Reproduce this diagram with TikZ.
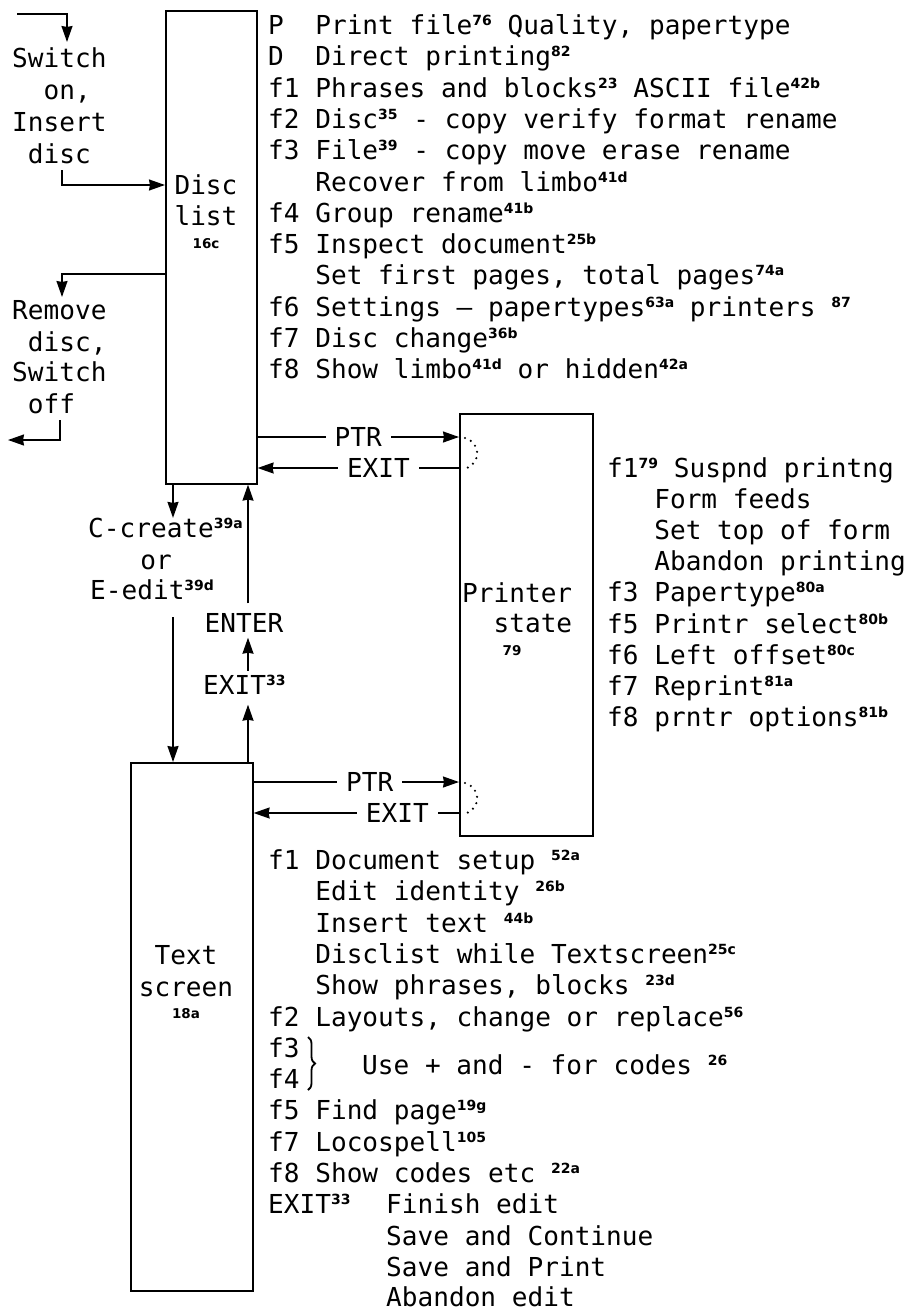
\documentclass[tikz,border=0pt]{standalone}
\usepackage{fontspec}
\setmainfont{DejaVu Sans Mono}
\newfontfamily\supf{DejaVu Sans}
\usetikzlibrary{arrows.meta,decorations.pathreplacing}
\newcommand\supx[1]{\raisebox{9pt}{\supf\bfseries\fontsize{14}{14}\selectfont #1}}
\newcommand\smallref[1]{{\supf\bfseries\fontsize{13.5}{13.5}\selectfont #1}}
\begin{document}
\begin{tikzpicture}[x=1pt,y=-1pt,
  tx/.style={anchor=base west, inner sep=0pt, font=\fontsize{26.1}{31}\selectfont},
  tc/.style={anchor=base, inner sep=0pt, font=\fontsize{26.1}{31}\selectfont},
  ln/.style={line width=1.6pt},
  arr/.style={line width=1.6pt, -{Stealth[length=16pt,width=11pt,inset=1pt]}},
  box/.style={draw, line width=1.6pt, anchor=north west, inner sep=0pt},
  lab/.style={fill=white, inner xsep=9pt, inner ysep=1pt, font=\fontsize{26.1}{31}\selectfont},
  dots/.style={line width=2.4pt, line cap=round, dash pattern=on 0pt off 6.5pt}]
\useasboundingbox (0,0) rectangle (916,1312);
\fill[white] (0,0) rectangle (916,1312);

% boxes
\node[box, minimum width=91pt, minimum height=473pt] (disc) at (165,10) {};
\node[box, minimum width=133pt, minimum height=422pt] (prn) at (459,413) {};
\node[box, minimum width=122pt, minimum height=528pt] (txt) at (130,762) {};

% box labels
\node[tc] (discA) at (206,194.5) {Disc};
\node[tc] (discB) at (206,225.5) {list};
\node[anchor=base, inner sep=0pt] (discC) at (206,248) {\smallref{16c}};
\node[tx] (prnA) at (462,602.5) {Printer};
\node[tx] (prnB) at (462,632.5) {\hphantom{xx}state};
\node[anchor=base, inner sep=0pt] (prnC) at (512,655) {\smallref{79}};
\node[tc] (txtA) at (186,964.5) {Text};
\node[tc] (txtB) at (186,996.5) {screen};
\node[anchor=base, inner sep=0pt] (txtC) at (186,1018) {\smallref{18a}};

% left column
\node[tx] (l1) at (12,67.5) {Switch};
\node[tx] (l2) at (12,99.5) {\hphantom{xx}on,};
\node[tx] (l3) at (12,131.5) {Insert};
\node[tx] (l4) at (12,163.5) {\hphantom{x}disc};
\node[tx] (l5) at (12,319.5) {Remove};
\node[tx] (l6) at (12,351.5) {\hphantom{x}disc,};
\node[tx] (l7) at (12,381.5) {Switch};
\node[tx] (l8) at (12,413.5) {\hphantom{x}off};

\coordinate (inS) at (17,14);
\coordinate (inT) at (67,42);
\draw[arr] (inS) -| (inT);
\coordinate (insS) at (62,170);
\coordinate (yIns) at (0,185);
\draw[arr] (insS) |- (disc.west |- yIns);
\coordinate (yRem) at (0,274);
\coordinate (remT) at (62,297);
\draw[arr] (disc.west |- yRem) -| (remT);
\coordinate (offS) at (60,420);
\coordinate (outT) at (8,440);
\draw[arr] (offS) |- (outT);

% top text
\node[tx] (t0) at (268,34.5) {P\ \ Print file\supx{76} Quality, papertype};
\node[tx] (t1) at (268,65.8) {D\ \ Direct printing\supx{82}};
\node[tx] (t2) at (268,97.1) {f1 Phrases and blocks\supx{23} ASCII file\supx{42b}};
\node[tx] (t3) at (268,128.4) {f2 Disc\supx{35} - copy verify format rename};
\node[tx] (t4) at (268,159.7) {f3 File\supx{39} - copy move erase rename};
\node[tx] (t5) at (268,191) {\hphantom{f3\ }Recover from limbo\supx{41d}};
\node[tx] (t6) at (268,222.3) {f4 Group rename\supx{41b}};
\node[tx] (t7) at (268,253.6) {f5 Inspect document\supx{25b}};
\node[tx] (t8) at (268,284.9) {\hphantom{f5\ }Set first pages, total pages\supx{74a}};
\node[tx] (t9) at (268,316.2) {f6 Settings – papertypes\supx{63a} printers \supx{87}};
\node[tx] (t10) at (268,347.5) {f7 Disc change\supx{36b}};
\node[tx] (t11) at (268,378.8) {f8 Show limbo\supx{41d} or hidden\supx{42a}};

% printer text
\node[tx] (p0) at (607,477.5) {f1\supx{79} Suspnd printng};
\node[tx] (p1) at (607,508.6) {\hphantom{f1\ }Form feeds};
\node[tx] (p2) at (607,539.7) {\hphantom{f1\ }Set top of form};
\node[tx] (p3) at (607,570.8) {\hphantom{f1\ }Abandon printing};
\node[tx] (p4) at (607,601.9) {f3 Papertype\supx{80a}};
\node[tx] (p5) at (607,633) {f5 Printr select\supx{80b}};
\node[tx] (p6) at (607,664.1) {f6 Left offset\supx{80c}};
\node[tx] (p7) at (607,695.2) {f7 Reprint\supx{81a}};
\node[tx] (p8) at (607,726.3) {f8 prntr options\supx{81b}};

% bottom text
\node[tx] (b0) at (268,869.5) {f1 Document setup \supx{52a}};
\node[tx] (b1) at (268,900.8) {\hphantom{f1\ }Edit identity \supx{26b}};
\node[tx] (b2) at (268,932.1) {\hphantom{f1\ }Insert text \supx{44b}};
\node[tx] (b3) at (268,963.4) {\hphantom{f1\ }Disclist while Textscreen\supx{25c}};
\node[tx] (b4) at (268,994.7) {\hphantom{f1\ }Show phrases, blocks \supx{23d}};
\node[tx] (b5) at (268,1026) {f2 Layouts, change or replace\supx{56}};
\node[tx] (b6) at (268,1057.3) {f3};
\node[tx] (b7) at (268,1088.6) {f4};
\draw[line width=1.8pt, decorate, decoration={brace, amplitude=7pt}] (308,1037) -- (308,1090);
\node[tx] (b67) at (362,1074) {Use + and - for codes \supx{26}};
\node[tx] (b8) at (268,1119.9) {f5 Find page\supx{19g}};
\node[tx] (b9) at (268,1151.2) {f7 Locospell\supx{105}};
\node[tx] (b10) at (268,1182.5) {f8 Show codes etc \supx{22a}};
\node[tx] (b11) at (268,1213.8) {EXIT\supx{33}};
\node[tx] (b11b) at (386,1213.8) {Finish edit};
\node[tx] (b12) at (386,1245.1) {Save and Continue};
\node[tx] (b13) at (386,1276.4) {Save and Print};
\node[tx] (b14) at (386,1306.5) {Abandon edit};

% middle labels
\node[tx] (create) at (88,537.5) {C-create\supx{39a}};
\node[tc] (orr) at (156,569.5) {or};
\node[tx] (edit) at (90,599.5) {E-edit\supx{39d}};
\node[tc] (enter) at (244,632.5) {ENTER};
\node[tx] (exit33) at (203,694.5) {EXIT\supx{33}};

\coordinate (laneA) at (173,0);
\coordinate (laneB) at (248,0);
\draw[arr] (laneA |- disc.south) -- (laneA |- create.north);
\draw[arr] ([yshift=-17pt]laneA |- edit.south) -- (laneA |- txt.north);
\draw[arr] (laneB |- txt.north) -- ([yshift=-10pt]laneB |- exit33.south);
\draw[arr] ([yshift=4pt]laneB |- exit33.north) -- ([yshift=-5pt]laneB |- enter.south);
\draw[arr] ([yshift=10pt]laneB |- enter.north) -- (laneB |- disc.south);

% PTR / EXIT connectors
\coordinate (yP1) at (0,437);
\coordinate (yE1) at (0,468);
\coordinate (yP2) at (0,782);
\coordinate (yE2) at (0,813);
\draw[arr] (disc.east |- yP1) -- node[lab, pos=0.5] (ptr1) {PTR} (prn.west |- yP1);
\draw[arr] (prn.west |- yE1) -- node[lab, pos=0.4] (ex1) {EXIT} (disc.east |- yE1);
\draw[arr] (txt.east |- yP2) -- node[lab, pos=0.565] (ptr2) {PTR} (prn.west |- yP2);
\draw[arr] (prn.west |- yE2) -- node[lab, pos=0.3] (ex2) {EXIT} (txt.east |- yE2);

\draw[dots] (465,438) .. controls (481,443) and (481,462) .. (467,468);
\draw[dots] (465,783) .. controls (481,788) and (481,807) .. (467,813);
\end{tikzpicture}
\end{document}
